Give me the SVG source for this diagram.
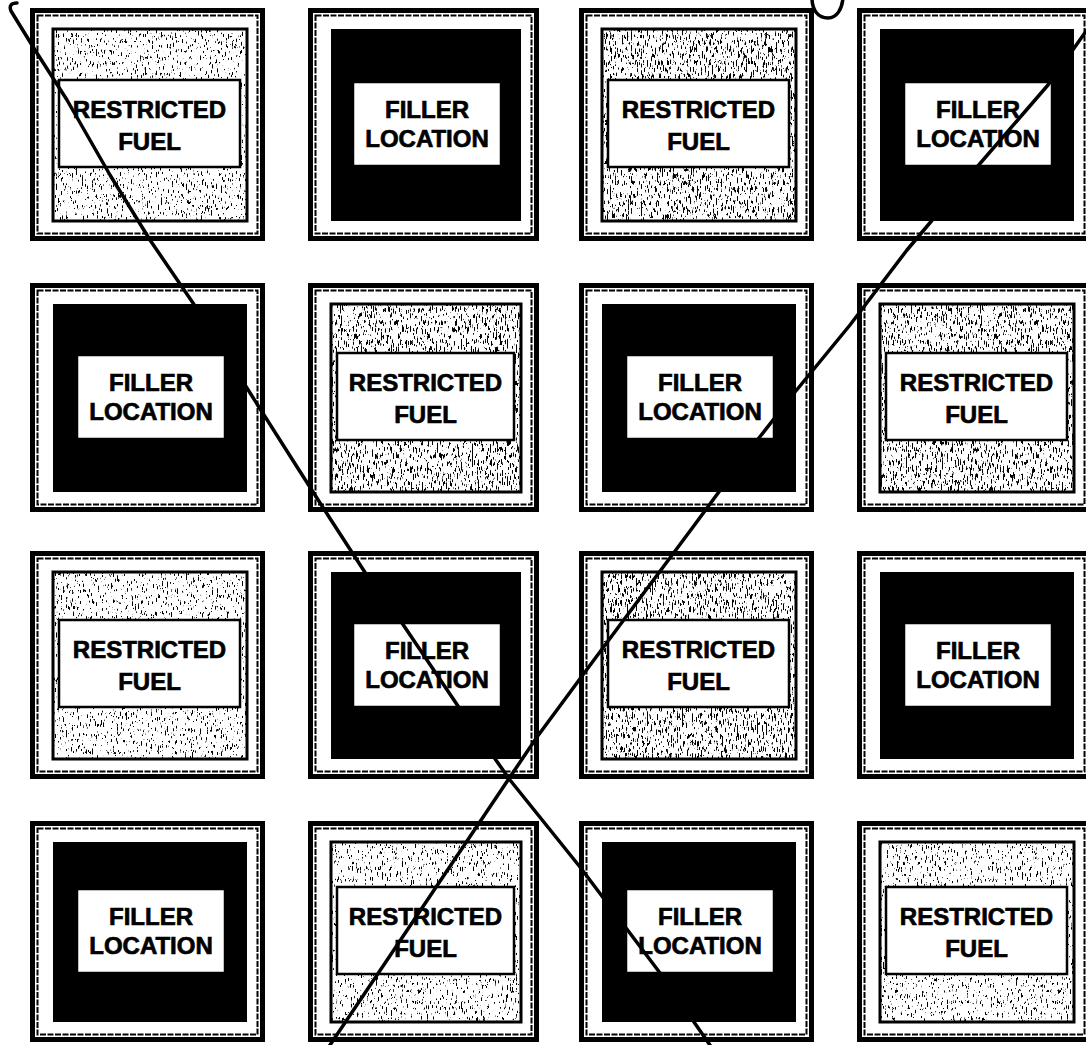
<svg xmlns="http://www.w3.org/2000/svg" width="1086" height="1045" viewBox="0 0 1086 1045">
<defs>
<style>
.fo{fill:none;stroke:#000;stroke-width:5}
.fi{fill:none;stroke:#000;stroke-width:2;stroke-dasharray:6 1.5}
.blk{fill:#000}
.gb{fill:#fff}
.gs{fill:#000;filter:url(#spk)}
.gd{fill:#000;filter:url(#spk2)}
.gbd{fill:none;stroke:#000;stroke-width:3}
.lb{fill:#fff;stroke:#000;stroke-width:2.5}
.t{font-family:"Liberation Sans",Arial,Helvetica,sans-serif;font-weight:bold;font-size:24px;text-anchor:middle;fill:#000;stroke:#000;stroke-width:0.7}
.ln{fill:none;stroke:#000;stroke-width:3.5;stroke-linecap:round;stroke-linejoin:round}
</style>
<filter id="spk" x="0" y="0" width="1" height="1" color-interpolation-filters="sRGB">
<feTurbulence type="fractalNoise" baseFrequency="0.8 0.18" numOctaves="3" seed="7" result="n"/>
<feColorMatrix in="n" type="matrix" values="0 0 0 0 0  0 0 0 0 0  0 0 0 0 0  18 0 0 0 -11.4" result="a"/>
<feComposite in="a" in2="SourceGraphic" operator="in"/>
</filter>
<filter id="spk2" x="0" y="0" width="1" height="1" color-interpolation-filters="sRGB">
<feTurbulence type="fractalNoise" baseFrequency="0.8 0.15" numOctaves="3" seed="11" result="n"/>
<feColorMatrix in="n" type="matrix" values="0 0 0 0 0  0 0 0 0 0  0 0 0 0 0  18 0 0 0 -10.6" result="a"/>
<feComposite in="a" in2="SourceGraphic" operator="in"/>
</filter>
</defs>
<rect width="1086" height="1045" fill="#fff"/>

<!-- Row 1 -->
<g id="r1c1">
<rect class="fo" x="32.5" y="10.5" width="230" height="228"/><rect class="fi" x="37.5" y="15.5" width="220" height="218"/>
<rect class="gb" x="53" y="29" width="194" height="192"/><rect class="gs" x="53" y="29" width="194" height="192"/><rect class="gbd" x="53" y="29" width="194" height="192"/>
<rect class="lb" x="59" y="80" width="181" height="87"/>
<text class="t" x="149.5" y="118">RESTRICTED</text><text class="t" x="149.5" y="150">FUEL</text>
</g>
<g id="r1c2">
<rect class="fo" x="310.5" y="10.5" width="226" height="228"/><rect class="fi" x="315.5" y="15.5" width="216" height="218"/>
<rect class="blk" x="331" y="29" width="190" height="192"/>
<rect class="lb" x="353" y="82" width="148" height="84"/>
<text class="t" x="427" y="118">FILLER</text><text class="t" x="427" y="147">LOCATION</text>
</g>
<g id="r1c3">
<rect class="fo" x="581.5" y="10.5" width="230" height="228"/><rect class="fi" x="586.5" y="15.5" width="220" height="218"/>
<rect class="gb" x="602" y="29" width="194" height="192"/><rect class="gd" x="602" y="29" width="194" height="192"/><rect class="gbd" x="602" y="29" width="194" height="192"/>
<rect class="lb" x="608" y="80" width="181" height="87"/>
<text class="t" x="698.5" y="118">RESTRICTED</text><text class="t" x="698.5" y="150">FUEL</text>
</g>
<g id="r1c4">
<rect class="fo" x="859.5" y="10.5" width="230" height="228"/><rect class="fi" x="864.5" y="15.5" width="220" height="218"/>
<rect class="blk" x="880" y="29" width="194" height="192"/>
<rect class="lb" x="904" y="82" width="148" height="84"/>
<text class="t" x="978" y="118">FILLER</text><text class="t" x="978" y="147">LOCATION</text>
</g>

<!-- Row 2 -->
<g id="r2c1">
<rect class="fo" x="32.5" y="285.5" width="230" height="224"/><rect class="fi" x="37.5" y="290.5" width="220" height="214"/>
<rect class="blk" x="53" y="304" width="194" height="188"/>
<rect class="lb" x="77" y="355" width="148" height="84"/>
<text class="t" x="151" y="391">FILLER</text><text class="t" x="151" y="420">LOCATION</text>
</g>
<g id="r2c2">
<rect class="fo" x="310.5" y="285.5" width="226" height="224"/><rect class="fi" x="315.5" y="290.5" width="216" height="214"/>
<rect class="gb" x="331" y="304" width="190" height="188"/><rect class="gd" x="331" y="304" width="190" height="188"/><rect class="gbd" x="331" y="304" width="190" height="188"/>
<rect class="lb" x="337" y="353" width="177" height="87"/>
<text class="t" x="425.5" y="391">RESTRICTED</text><text class="t" x="425.5" y="423">FUEL</text>
</g>
<g id="r2c3">
<rect class="fo" x="581.5" y="285.5" width="230" height="224"/><rect class="fi" x="586.5" y="290.5" width="220" height="214"/>
<rect class="blk" x="602" y="304" width="194" height="188"/>
<rect class="lb" x="626" y="355" width="148" height="84"/>
<text class="t" x="700" y="391">FILLER</text><text class="t" x="700" y="420">LOCATION</text>
</g>
<g id="r2c4">
<rect class="fo" x="859.5" y="285.5" width="230" height="224"/><rect class="fi" x="864.5" y="290.5" width="220" height="214"/>
<rect class="gb" x="880" y="304" width="194" height="188"/><rect class="gd" x="880" y="304" width="194" height="188"/><rect class="gbd" x="880" y="304" width="194" height="188"/>
<rect class="lb" x="886" y="353" width="181" height="87"/>
<text class="t" x="976.5" y="391">RESTRICTED</text><text class="t" x="976.5" y="423">FUEL</text>
</g>

<!-- Row 3 -->
<g id="r3c1">
<rect class="fo" x="32.5" y="553.5" width="230" height="223"/><rect class="fi" x="37.5" y="558.5" width="220" height="213"/>
<rect class="gb" x="53" y="572" width="194" height="187"/><rect class="gs" x="53" y="572" width="194" height="187"/><rect class="gbd" x="53" y="572" width="194" height="187"/>
<rect class="lb" x="59" y="620" width="181" height="87"/>
<text class="t" x="149.5" y="658">RESTRICTED</text><text class="t" x="149.5" y="690">FUEL</text>
</g>
<g id="r3c2">
<rect class="fo" x="310.5" y="553.5" width="226" height="223"/><rect class="fi" x="315.5" y="558.5" width="216" height="213"/>
<rect class="blk" x="331" y="572" width="190" height="187"/>
<rect class="lb" x="353" y="623" width="148" height="84"/>
<text class="t" x="427" y="659">FILLER</text><text class="t" x="427" y="688">LOCATION</text>
</g>
<g id="r3c3">
<rect class="fo" x="581.5" y="553.5" width="230" height="223"/><rect class="fi" x="586.5" y="558.5" width="220" height="213"/>
<rect class="gb" x="602" y="572" width="194" height="187"/><rect class="gd" x="602" y="572" width="194" height="187"/><rect class="gbd" x="602" y="572" width="194" height="187"/>
<rect class="lb" x="608" y="620" width="181" height="87"/>
<text class="t" x="698.5" y="658">RESTRICTED</text><text class="t" x="698.5" y="690">FUEL</text>
</g>
<g id="r3c4">
<rect class="fo" x="859.5" y="553.5" width="230" height="223"/><rect class="fi" x="864.5" y="558.5" width="220" height="213"/>
<rect class="blk" x="880" y="572" width="194" height="187"/>
<rect class="lb" x="904" y="623" width="148" height="84"/>
<text class="t" x="978" y="659">FILLER</text><text class="t" x="978" y="688">LOCATION</text>
</g>

<!-- Row 4 -->
<g id="r4c1">
<rect class="fo" x="32.5" y="823.5" width="230" height="216"/><rect class="fi" x="37.5" y="828.5" width="220" height="206"/>
<rect class="blk" x="53" y="842" width="194" height="180"/>
<rect class="lb" x="77" y="889" width="148" height="84"/>
<text class="t" x="151" y="925">FILLER</text><text class="t" x="151" y="954">LOCATION</text>
</g>
<g id="r4c2">
<rect class="fo" x="310.5" y="823.5" width="226" height="216"/><rect class="fi" x="315.5" y="828.5" width="216" height="206"/>
<rect class="gb" x="331" y="842" width="190" height="180"/><rect class="gs" x="331" y="842" width="190" height="180"/><rect class="gbd" x="331" y="842" width="190" height="180"/>
<rect class="lb" x="337" y="887" width="177" height="87"/>
<text class="t" x="425.5" y="925">RESTRICTED</text><text class="t" x="425.5" y="957">FUEL</text>
</g>
<g id="r4c3">
<rect class="fo" x="581.5" y="823.5" width="230" height="216"/><rect class="fi" x="586.5" y="828.5" width="220" height="206"/>
<rect class="blk" x="602" y="842" width="194" height="180"/>
<rect class="lb" x="626" y="889" width="148" height="84"/>
<text class="t" x="700" y="925">FILLER</text><text class="t" x="700" y="954">LOCATION</text>
</g>
<g id="r4c4">
<rect class="fo" x="859.5" y="823.5" width="230" height="216"/><rect class="fi" x="864.5" y="828.5" width="220" height="206"/>
<rect class="gb" x="880" y="842" width="194" height="180"/><rect class="gs" x="880" y="842" width="194" height="180"/><rect class="gbd" x="880" y="842" width="194" height="180"/>
<rect class="lb" x="886" y="887" width="181" height="87"/>
<text class="t" x="976.5" y="925">RESTRICTED</text><text class="t" x="976.5" y="957">FUEL</text>
</g>

<g id="connectors">
<path class="ln" d="M 17 3 Q 8 3 11 11 L 35 50 L 67 100 L 110 175 L 150 240 L 193 303 L 245 385 L 299 470 L 331 520 L 368 577 L 400 620 L 462 712 L 510 780 L 580 867 L 660 973 L 712 1048"/>
<path class="ln" d="M 1094 20 L 1048 85 L 977 167 L 907 250 L 850 325 L 795 392 L 755 443 L 693 527 L 646 590 L 585 672 L 537 737 L 508 780 L 328 1048"/>
<path class="ln" d="M 812 -2 C 812 10 818 18 828 18 C 837 18 842 9 843 -2"/>
</g>
</svg>
